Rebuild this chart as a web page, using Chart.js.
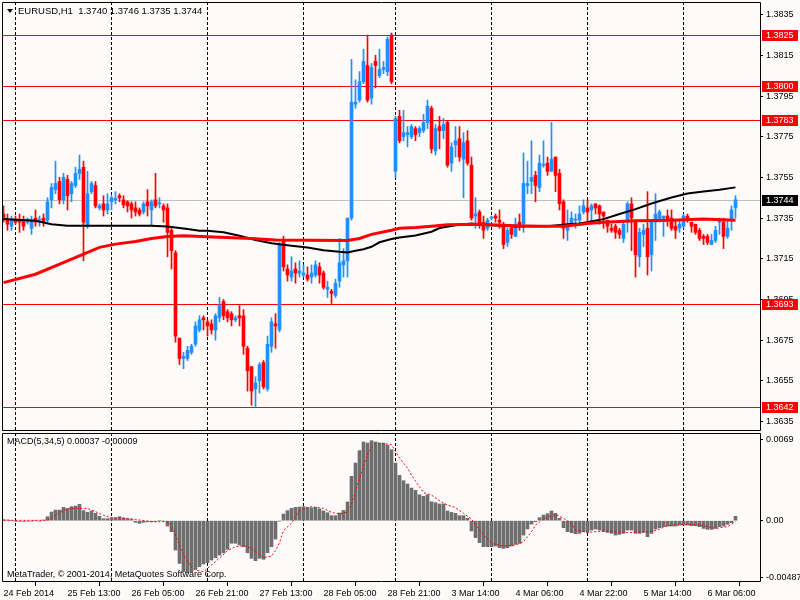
<!DOCTYPE html>
<html>
<head>
<meta charset="utf-8">
<title>EURUSD,H1</title>
<script src="https://cdn.jsdelivr.net/npm/chart.js@4.4.1/dist/chart.umd.min.js"></script>
<style>
    body { margin: 0; background: #fffafa; }
    #wrap { position: relative; width: 800px; height: 600px; overflow: hidden; background: #fffafa;
            font-family: "Liberation Sans", Arial, sans-serif; }
    canvas { position: absolute; left: 0; }
    #mainChart { top: 0; }
    #macdChart { top: 432px; }
    .txt { position: absolute; font-size: 9px; line-height: 1; color: #000; white-space: pre; }
    .tri { position: absolute; left: 7px; top: 9px; width: 0; height: 0;
           border-left: 3px solid transparent; border-right: 3px solid transparent; border-top: 4px solid #000; }
</style>
</head>
<body>
<div id="wrap">
    <canvas id="mainChart" width="800" height="432" style="width:800px;height:432px"></canvas>
    <canvas id="macdChart" width="800" height="168" style="width:800px;height:168px"></canvas>
    <div class="tri"></div>
    <div class="txt" style="left:18px;top:6px;font-size:9.5px">EURUSD,H1  1.3740 1.3746 1.3735 1.3744</div>
    <div class="txt" style="left:7px;top:437px">MACD(5,34,5) 0.00037 -0.00009</div>
    <div class="txt" style="left:7px;top:570px">MetaTrader, © 2001-2014, MetaQuotes Software Corp.</div>
</div>
<script>
// ---- H1 candles, bar 0 = 24 Feb 21:00 ... bar 183 = 6 Mar 13:00 ----
const opens = [
    1.3737, 1.3734, 1.3731, 1.37345, 1.3734, 1.3734, 1.3733, 1.3730, 1.3735, 1.3734,
    1.3735, 1.3734, 1.3744, 1.3749, 1.3753, 1.3744, 1.3754, 1.3747, 1.3751, 1.3757,
    1.3760, 1.3731, 1.3748, 1.3751, 1.3740, 1.3742, 1.3739, 1.3743, 1.3744, 1.3746,
    1.3744, 1.3743, 1.3742, 1.3740, 1.3739, 1.3738, 1.3743, 1.3739, 1.3744, 1.3742,
    1.3741, 1.3740, 1.3729, 1.3718, 1.3676, 1.3666, 1.3666, 1.3669, 1.3673, 1.3680,
    1.3686, 1.3684, 1.3683, 1.3680, 1.3686, 1.3694, 1.3689, 1.3688, 1.3685, 1.3687,
    1.3687, 1.3671, 1.3662, 1.3651, 1.3655, 1.3664, 1.3651, 1.3672, 1.3683, 1.3680,
    1.3724, 1.3710, 1.3706, 1.3710, 1.3708, 1.3707, 1.3707, 1.3706, 1.3707, 1.3711,
    1.3708, 1.3700, 1.3699, 1.3697, 1.3704, 1.3712, 1.3714, 1.3735, 1.3791, 1.3793,
    1.3802, 1.3810, 1.3794, 1.3812, 1.3805, 1.3808, 1.3807, 1.3825, 1.3758, 1.3785,
    1.3775, 1.3776, 1.3775, 1.3779, 1.3777, 1.3778, 1.3782, 1.3789, 1.3768, 1.3780,
    1.3778, 1.3782, 1.3762, 1.3771, 1.3774, 1.3764, 1.3773, 1.3761, 1.3736, 1.3738,
    1.3733, 1.3730, 1.3735, 1.3736, 1.3734, 1.3732, 1.3723, 1.3730, 1.3726, 1.3733,
    1.3732, 1.3751, 1.3753, 1.3756, 1.3750, 1.3761, 1.3762, 1.3758, 1.3765, 1.3757,
    1.3743, 1.3729, 1.3732, 1.3734, 1.3734, 1.3738, 1.3740, 1.3739, 1.3742, 1.3741,
    1.3738, 1.3734, 1.3730, 1.3731, 1.3729, 1.3725, 1.3733, 1.3742, 1.3733, 1.3716,
    1.3727, 1.3730, 1.3717, 1.3733, 1.3734, 1.3735, 1.3736, 1.3735, 1.3731, 1.3730,
    1.3731, 1.3736, 1.3733, 1.3732, 1.3729, 1.3726, 1.3726, 1.3722, 1.3724, 1.3733,
    1.3733, 1.3726, 1.3734, 1.3740
];
const highs = [
    1.3741, 1.3737, 1.3736, 1.3736, 1.3737, 1.3736, 1.3735, 1.3736, 1.3739, 1.3736,
    1.3737, 1.3745, 1.3752, 1.3763, 1.3755, 1.3757, 1.3756, 1.3753, 1.3760, 1.3766,
    1.3763, 1.3758, 1.3753, 1.3753, 1.3742, 1.3746, 1.3747, 1.3746, 1.3748, 1.3747,
    1.3746, 1.37435, 1.3743, 1.3743, 1.3740, 1.3743, 1.3749, 1.3744, 1.3757, 1.3745,
    1.3742, 1.3742, 1.3730, 1.3719, 1.3676, 1.3669, 1.3672, 1.3673, 1.3684, 1.3687,
    1.3687, 1.3685, 1.3685, 1.3688, 1.3696, 1.3695, 1.3690, 1.3689, 1.3687, 1.3692,
    1.3690, 1.3672, 1.3662, 1.3657, 1.3664, 1.3665, 1.3677, 1.3686, 1.3688, 1.3723,
    1.3726, 1.3712, 1.3716, 1.3713, 1.3714, 1.3712, 1.3711, 1.3712, 1.3714, 1.3713,
    1.3709, 1.3704, 1.3700, 1.3705, 1.3725, 1.3720, 1.3735, 1.3813, 1.3803, 1.3807,
    1.3818, 1.3825, 1.3811, 1.3815, 1.3818, 1.3812, 1.3824, 1.3826, 1.3785, 1.3788,
    1.3788, 1.3780, 1.3781, 1.3780, 1.3780, 1.3786, 1.3793, 1.3790, 1.3781, 1.3785,
    1.3784, 1.3783, 1.3772, 1.3780, 1.3780, 1.3777, 1.3778, 1.3765, 1.3745, 1.3739,
    1.3736, 1.3735, 1.3736, 1.3737, 1.3739, 1.3733, 1.3730, 1.3731, 1.3735, 1.3737,
    1.3767, 1.3763, 1.3773, 1.3758, 1.3766, 1.3773, 1.3765, 1.3782, 1.3765, 1.3759,
    1.3744, 1.3739, 1.3738, 1.3737, 1.3741, 1.3744, 1.3744, 1.3742, 1.3742, 1.37415,
    1.3738, 1.3734, 1.3732, 1.3732, 1.3730, 1.3733, 1.3743, 1.3745, 1.3734, 1.3730,
    1.3732, 1.3748, 1.3734, 1.3747, 1.3739, 1.3736, 1.3739, 1.3739, 1.3734, 1.3734,
    1.3737, 1.3737, 1.3733, 1.3732, 1.3730, 1.3727, 1.3727, 1.3727, 1.3731, 1.3735,
    1.3735, 1.3734, 1.3741, 1.3746
];
const lows = [
    1.3733, 1.3729, 1.3729, 1.3732, 1.3728, 1.3729, 1.3732, 1.3727, 1.3731, 1.3731,
    1.3731, 1.3733, 1.3740, 1.3747, 1.3742, 1.3742, 1.3739, 1.3743, 1.3750, 1.3754,
    1.3714, 1.3730, 1.3747, 1.3740, 1.3739, 1.3736, 1.3737, 1.3739, 1.3742, 1.3743,
    1.3740, 1.3738, 1.3735, 1.3736, 1.3736, 1.3737, 1.3736, 1.3731, 1.3740, 1.3740,
    1.3733, 1.3716, 1.3710, 1.3674, 1.3663, 1.3661, 1.3665, 1.3668, 1.3672, 1.3679,
    1.3680, 1.3677, 1.3678, 1.3675, 1.3684, 1.3685, 1.3684, 1.3682, 1.3684, 1.3682,
    1.3668, 1.3650, 1.3643, 1.3642, 1.3649, 1.3651, 1.3650, 1.3669, 1.3671, 1.3679,
    1.3709, 1.3704, 1.3704, 1.3703, 1.3706, 1.3706, 1.3704, 1.3703, 1.3706, 1.3703,
    1.3700, 1.3696, 1.3693, 1.3696, 1.3701, 1.3706, 1.3706, 1.3734, 1.3789, 1.3792,
    1.3801, 1.3792, 1.3791, 1.3799, 1.3804, 1.3806, 1.3805, 1.3801, 1.3755, 1.3772,
    1.3773, 1.3770, 1.3774, 1.3773, 1.3775, 1.3777, 1.3779, 1.3767, 1.3766, 1.3769,
    1.3774, 1.3760, 1.3758, 1.3765, 1.3763, 1.3745, 1.3761, 1.3734, 1.3730, 1.3730,
    1.3725, 1.3729, 1.3734, 1.3733, 1.3730, 1.3720, 1.3721, 1.3725, 1.3726, 1.3729,
    1.3728, 1.3747, 1.3747, 1.3743, 1.3748, 1.3760, 1.3756, 1.3758, 1.3748, 1.3739,
    1.3725, 1.3724, 1.3731, 1.3730, 1.3732, 1.3737, 1.3733, 1.3733, 1.3737, 1.3732,
    1.3730, 1.3728, 1.3728, 1.3725, 1.3725, 1.3723, 1.3728, 1.3719, 1.3706, 1.3711,
    1.3721, 1.3707, 1.3709, 1.3724, 1.3733, 1.3726, 1.3731, 1.3729, 1.3725, 1.3728,
    1.3730, 1.3733, 1.3728, 1.3727, 1.3724, 1.3722, 1.3722, 1.3722, 1.3723, 1.3727,
    1.3720, 1.3725, 1.3729, 1.3735
];
const closes = [
    1.3734, 1.3732, 1.3734, 1.3733, 1.3733, 1.3731, 1.37345, 1.3734, 1.3733, 1.37343,
    1.3733, 1.3743, 1.3750, 1.3752, 1.3744, 1.3755, 1.3746, 1.3752, 1.3757, 1.3759,
    1.3733, 1.3747, 1.3752, 1.3741, 1.3741, 1.3739, 1.3742, 1.3745, 1.37447, 1.3745,
    1.37415, 1.3741, 1.3739, 1.3738, 1.3737, 1.3742, 1.3741, 1.3743, 1.3741, 1.37425,
    1.3739, 1.3728, 1.3719, 1.3677, 1.3666, 1.3667, 1.3670, 1.3672, 1.3682, 1.3685,
    1.3685, 1.3682, 1.3680, 1.3687, 1.3692, 1.3687, 1.3686, 1.3685, 1.3686, 1.3686,
    1.3672, 1.3660, 1.3650, 1.3654, 1.3663, 1.3652, 1.3673, 1.3684, 1.3682, 1.3722,
    1.3711, 1.3707, 1.3709, 1.3708, 1.3709, 1.3708, 1.3705, 1.3708, 1.3712, 1.3707,
    1.3701, 1.3701, 1.3698, 1.3703, 1.3713, 1.3714, 1.3735, 1.3792, 1.3792, 1.3802,
    1.3812, 1.3793, 1.3809, 1.3810, 1.3808, 1.3809, 1.3823, 1.3802, 1.3784, 1.3773,
    1.3777, 1.3777, 1.3780, 1.3776, 1.3779, 1.3782, 1.3790, 1.3769, 1.3779, 1.3778,
    1.3781, 1.3761, 1.3770, 1.3773, 1.3765, 1.3772, 1.3762, 1.3735, 1.3737, 1.3732,
    1.3729, 1.3734, 1.37355, 1.3735, 1.3733, 1.3722, 1.3729, 1.3727, 1.3732, 1.3731,
    1.3752, 1.3752, 1.3755, 1.3751, 1.3762, 1.37615, 1.3758, 1.3764, 1.3756, 1.3742,
    1.3730, 1.3732, 1.3735, 1.37345, 1.3737, 1.3741, 1.3738, 1.3741, 1.3740, 1.3737,
    1.3736, 1.3731, 1.3729, 1.3728, 1.3727, 1.3732, 1.3742, 1.3735, 1.3717, 1.3728,
    1.3729, 1.3716, 1.3733, 1.3737, 1.3738, 1.3736, 1.3734, 1.3730, 1.3729, 1.3732,
    1.3736, 1.3734, 1.3731, 1.3728, 1.3725, 1.3725, 1.3723, 1.3724, 1.3729, 1.3734,
    1.3726, 1.3730, 1.3739, 1.3744
];

// moving averages, read at selected bars
const maRedIdx = [0, 8, 16, 20, 24, 28, 33, 37, 41, 45, 51, 62, 68, 86, 89, 92, 97, 99, 103, 107,
                  111, 119, 128, 134, 140, 146, 150, 158, 167, 175, 183];
const maRed = [1.37033, 1.37074, 1.3714, 1.37173, 1.37206, 1.37222, 1.37235, 1.3725, 1.3726, 1.37263,
               1.37258, 1.3725, 1.37242, 1.3724, 1.3725, 1.3727, 1.3729, 1.3730, 1.37304, 1.3731,
               1.37317, 1.3732, 1.37312, 1.3731, 1.3731, 1.37324, 1.3733, 1.37337, 1.3734, 1.37345, 1.3734];
const maBlackIdx = [0, 8, 12, 16, 24, 37, 41, 46, 49, 51, 55, 59, 63, 67, 72, 76, 80, 84, 86, 88,
                    90, 92, 94, 97, 99, 103, 107, 109, 113, 117, 119, 128, 136, 141, 144, 150, 154, 158, 162, 167,
                    171, 175, 179, 183];
const maBlack = [1.37345, 1.37337, 1.3732, 1.37312, 1.37312, 1.37312, 1.37309, 1.37296, 1.37288, 1.37288,
                 1.3728, 1.37263, 1.37242, 1.37226, 1.37214, 1.37206, 1.37192, 1.37184, 1.37181, 1.37189,
                 1.37197, 1.37209, 1.37231, 1.37247, 1.37255, 1.37265, 1.37283, 1.37301, 1.37315, 1.37324,
                 1.37317, 1.37309, 1.3731, 1.3732, 1.37324, 1.37345, 1.3737, 1.37394, 1.37422, 1.37451,
                 1.37471, 1.37481, 1.37489, 1.37501];

// MACD(5,34,5) histogram, one value per bar
const macdHist = [
    0.00009, 0.00006, 0, -0.00003, -0.00006, -0.00006, -0.00003, -0.00003, 0, -0.00003,
    0.00006, 0.00034, 0.00074, 0.00091, 0.00091, 0.00114, 0.00105, 0.00120, 0.00125, 0.00140,
    0.00086, 0.00071, 0.00083, 0.00063, 0.00037, 0.00017, 0.00017, 0.00023, 0.00026, 0.00034,
    0.00023, 0.00017, 0.00011, -0.00014, -0.00023, -0.00014, -0.00009, -0.00009, -0.00006, 0,
    -0.00003, -0.00046, -0.00094, -0.00251, -0.00365, -0.00436, -0.00445, -0.00436, -0.00416, -0.00393,
    -0.00371, -0.00359, -0.00336, -0.00316, -0.00294, -0.00274, -0.00245, -0.00193, -0.00193, -0.00208,
    -0.00222, -0.00274, -0.00322, -0.00342, -0.00322, -0.00330, -0.00274, -0.00222, -0.00157, -0.00003,
    0.00057, 0.00086, 0.00106, 0.00114, 0.00117, 0.00120, 0.00114, 0.00111, 0.00114, 0.00100,
    0.00083, 0.00068, 0.00043, 0.00043, 0.00066, 0.00088, 0.00160, 0.00379, 0.00493, 0.00599,
    0.00673, 0.00664, 0.00684, 0.00673, 0.00664, 0.00664, 0.00644, 0.00607, 0.00493, 0.00388,
    0.00342, 0.00314, 0.00279, 0.00259, 0.00222, 0.00208, 0.00222, 0.00162, 0.00154, 0.00143,
    0.00143, 0.00083, 0.00071, 0.00063, 0.00043, 0.00043, 0.00020, -0.00088, -0.00145, -0.00188,
    -0.00222, -0.00222, -0.00222, -0.00217, -0.00231, -0.00237, -0.00231, -0.00217, -0.00202, -0.00194,
    -0.00123, -0.00071, -0.00029, -0.00009, 0.00026, 0.00048, 0.00060, 0.00083, 0.00063, 0.00020,
    -0.00060, -0.00094, -0.00103, -0.00111, -0.00108, -0.00094, -0.00100, -0.00080, -0.00071, -0.00080,
    -0.00094, -0.00100, -0.00108, -0.00123, -0.00117, -0.00108, -0.00080, -0.00080, -0.00108, -0.00108,
    -0.00100, -0.00137, -0.00108, -0.00071, -0.00060, -0.00051, -0.00046, -0.00046, -0.00046, -0.00037,
    -0.00037, -0.00037, -0.00043, -0.00043, -0.00051, -0.00066, -0.00074, -0.00074, -0.00066, -0.00051,
    -0.00046, -0.00031, -0.00017, 0.00037
];
const signalIdx = [0, 11, 12, 13, 15, 16, 18, 21, 22, 24,
                   25, 26, 28, 31, 33, 37, 41, 42, 43, 44,
                   45, 47, 48, 50, 51, 53, 54, 56, 58, 60,
                   62, 63, 65, 67, 68, 69, 70, 72, 73, 74,
                   76, 77, 80, 82, 84, 86, 87, 88, 89, 90,
                   91, 92, 93, 94, 95, 97, 98, 99, 101, 102,
                   104, 105, 107, 110, 113, 115, 117, 118, 120, 122,
                   125, 128, 130, 132, 133, 135, 137, 138, 140, 142,
                   143, 146, 150, 154, 158, 162, 164, 166, 170, 174,
                   178, 181, 183];
const signalVals = [0.00003, 0.00003, 0.00020, 0.00048, 0.00086, 0.00100, 0.00105, 0.00105, 0.00090, 0.00063,
                    0.00046, 0.00034, 0.00023, 0.00020, 0.00011, -0.00009, -0.00009, -0.00040, -0.00123, -0.00208,
                    -0.00294, -0.00400, -0.00422, -0.00436, -0.00408, -0.00350, -0.00320, -0.00257, -0.00222, -0.00214,
                    -0.00236, -0.00265, -0.00316, -0.00302, -0.00256, -0.00188, -0.00085, -0.00022, 0.00034, 0.00083,
                    0.00111, 0.00120, 0.00105, 0.00071, 0.00057, 0.00074, 0.00140, 0.00250, 0.00360, 0.00465,
                    0.00570, 0.00625, 0.00656, 0.00664, 0.00658, 0.00650, 0.00593, 0.00536, 0.00450, 0.00390,
                    0.00290, 0.00240, 0.00219, 0.00148, 0.00111, 0.00063, 0.00014, -0.00037, -0.00123, -0.00194,
                    -0.00217, -0.00208, -0.00180, -0.00094, -0.00037, 0.00014, 0.00043, 0.00054, 0.00020, -0.00023,
                    -0.00080, -0.00100, -0.00088, -0.00100, -0.00100, -0.00094, -0.00071, -0.00043, -0.00031, -0.00037,
                    -0.00066, -0.00051, -0.00009];

// axes and levels
const xTickIdx = [0, 16, 32, 48, 64, 80, 96, 112, 128, 144, 160, 176];
const xTickLabels = ['24 Feb 2014', '25 Feb 13:00', '26 Feb 05:00', '26 Feb 21:00', '27 Feb 13:00', '28 Feb 05:00',
                     '28 Feb 21:00', '3 Mar 14:00', '4 Mar 06:00', '4 Mar 22:00', '5 Mar 14:00', '6 Mar 06:00'];
const dayGridIdx = [3, 27, 51, 75, 98, 122, 146, 170];
const priceTicks = [1.3635, 1.3655, 1.3675, 1.3695, 1.3715, 1.3735, 1.3755, 1.3775, 1.3795, 1.3815, 1.3835];
const macdTicks = [-0.00487, 0, 0.0069];
const macdTickText = ['-0.00487', '0.00', '0.0069'];
const levelPrices = [1.3825, 1.3800, 1.3783, 1.3693, 1.3642];
const lastPrice = 1.3744;

const UP = '#1e90ff';
const DOWN = '#ff0000';
const FONT = '"Liberation Sans", Arial, sans-serif';
const X_MIN = -0.375, X_MAX = 189.125;

Chart.defaults.font.family = FONT;
Chart.defaults.font.size = 9;
Chart.defaults.color = '#000';

const bars = opens.map((_, i) => i);
const candleColors = bars.map(i => closes[i] >= opens[i] ? UP : DOWN);

// keep the plot area exactly where the axis boxes leave it (no label overhang padding)
function fixAxis(size) {
    return s => {
        if (s.isHorizontal()) { s.height = size; } else { s.width = size; }
        s.paddingTop = 0;
        s.paddingBottom = 0;
        s.paddingLeft = 0;
        s.paddingRight = 0;
    };
}

function drawFrame(chart) {
    const { ctx, chartArea: a } = chart;
    ctx.save();
    ctx.strokeStyle = '#000';
    ctx.lineWidth = 1;
    ctx.setLineDash([]);
    ctx.beginPath();
    ctx.moveTo(a.left + 0.5, a.top + 0.5);
    ctx.lineTo(a.right + 0.5, a.top + 0.5);
    ctx.lineTo(a.right + 0.5, a.bottom - 0.5);
    ctx.lineTo(a.left + 0.5, a.bottom - 0.5);
    ctx.closePath();
    ctx.stroke();
    ctx.restore();
}

function drawDayGrid(chart) {
    const { ctx, chartArea: a, scales: { x } } = chart;
    ctx.save();
    ctx.strokeStyle = '#000';
    ctx.lineWidth = 1;
    ctx.setLineDash([3, 2]);
    dayGridIdx.forEach(i => {
        const px = Math.floor(x.getPixelForValue(i)) + 0.5;
        ctx.beginPath();
        ctx.moveTo(px, a.top);
        ctx.lineTo(px, a.bottom);
        ctx.stroke();
    });
    ctx.restore();
}

const mainPanel = {
    id: 'mainPanel',
    beforeDatasetsDraw(chart) {
        const { ctx, chartArea: a, scales: { y } } = chart;
        drawDayGrid(chart);
        ctx.save();
        ctx.lineWidth = 1;
        const hline = (v, color) => {
            const py = Math.round(y.getPixelForValue(v)) + 0.5;
            ctx.strokeStyle = color;
            ctx.beginPath();
            ctx.moveTo(a.left, py);
            ctx.lineTo(a.right, py);
            ctx.stroke();
        };
        hline(lastPrice, '#c0c0c0');
        levelPrices.forEach(v => hline(v, '#ff0000'));
        ctx.restore();
    },
    afterDraw(chart) {
        const { ctx, chartArea: a, scales: { y } } = chart;
        drawFrame(chart);
        ctx.save();
        ctx.font = '9px ' + FONT;
        ctx.textBaseline = 'middle';
        const tag = (v, bg) => {
            const py = Math.round(y.getPixelForValue(v));
            ctx.fillStyle = bg;
            ctx.fillRect(a.right + 2, py - 5, 36, 11);
            ctx.fillStyle = '#fff';
            ctx.fillText(v.toFixed(4), a.right + 6, py + 0.5);
        };
        levelPrices.forEach(v => tag(v, '#ff0000'));
        tag(lastPrice, '#000');
        ctx.restore();
    }
};

const macdPanel = {
    id: 'macdPanel',
    beforeDatasetsDraw(chart) { drawDayGrid(chart); },
    afterDraw(chart) { drawFrame(chart); }
};

new Chart(document.getElementById('mainChart'), {
    type: 'bar',
    data: {
        datasets: [
            {
                type: 'line',
                data: maRedIdx.map((b, k) => ({ x: b, y: maRed[k] })),
                borderColor: '#ff0000',
                borderWidth: 3,
                pointRadius: 0,
                tension: 0
            },
            {
                type: 'line',
                data: maBlackIdx.map((b, k) => ({ x: b, y: maBlack[k] })),
                borderColor: '#000000',
                borderWidth: 2,
                pointRadius: 0,
                tension: 0
            },
            {
                data: bars.map(i => ({ x: i, y: [opens[i], closes[i]] })),
                backgroundColor: candleColors,
                barThickness: 3,
                minBarLength: 1,
                grouped: false
            },
            {
                data: bars.map(i => ({ x: i, y: [lows[i], highs[i]] })),
                backgroundColor: candleColors,
                barThickness: 1,
                minBarLength: 1,
                grouped: false
            }
        ]
    },
    options: {
        responsive: false,
        animation: false,
        devicePixelRatio: 1,
        layout: { padding: { left: 2, top: 2, right: 0, bottom: 1 } },
        plugins: { legend: { display: false }, tooltip: { enabled: false } },
        scales: {
            x: { type: 'linear', min: X_MIN, max: X_MAX, offset: false, display: false },
            y: {
                position: 'right',
                min: 1.363035,
                max: 1.384122,
                afterFit: fixAxis(40),
                afterBuildTicks: s => { s.ticks = priceTicks.map(v => ({ value: v })); },
                ticks: { callback: v => v.toFixed(4), padding: 3, autoSkip: false },
                grid: { drawOnChartArea: false, drawTicks: true, tickLength: 3, tickColor: '#000' },
                border: { display: false }
            }
        }
    },
    plugins: [mainPanel]
});

new Chart(document.getElementById('macdChart'), {
    type: 'bar',
    data: {
        datasets: [
            {
                type: 'line',
                data: signalIdx.map((b, k) => ({ x: b, y: signalVals[k] })),
                borderColor: '#ff0000',
                borderWidth: 1,
                borderDash: [2, 2],
                pointRadius: 0,
                tension: 0
            },
            {
                data: bars.map(i => ({ x: i, y: macdHist[i] })),
                backgroundColor: '#6e6e6e',
                barThickness: 3,
                grouped: false
            }
        ]
    },
    options: {
        responsive: false,
        animation: false,
        devicePixelRatio: 1,
        layout: { padding: { left: 2, top: 1, right: 0, bottom: 0 } },
        plugins: { legend: { display: false }, tooltip: { enabled: false } },
        scales: {
            x: {
                type: 'linear',
                min: X_MIN,
                max: X_MAX,
                offset: false,
                afterFit: fixAxis(18),
                afterBuildTicks: s => { s.ticks = xTickIdx.map(v => ({ value: v })); },
                ticks: { align: 'start', callback: (v, i) => xTickLabels[i], padding: 2, maxRotation: 0, autoSkip: false },
                grid: { drawOnChartArea: false, drawTicks: true, tickLength: 4, tickColor: '#000' },
                border: { display: false }
            },
            y: {
                position: 'right',
                min: -0.0052411,
                max: 0.0074983,
                afterFit: fixAxis(40),
                afterBuildTicks: s => { s.ticks = macdTicks.map(v => ({ value: v })); },
                ticks: { callback: (v, i) => macdTickText[i], padding: 3, autoSkip: false },
                grid: { drawOnChartArea: false, drawTicks: true, tickLength: 3, tickColor: '#000' },
                border: { display: false }
            }
        }
    },
    plugins: [macdPanel]
});
</script>
</body>
</html>
